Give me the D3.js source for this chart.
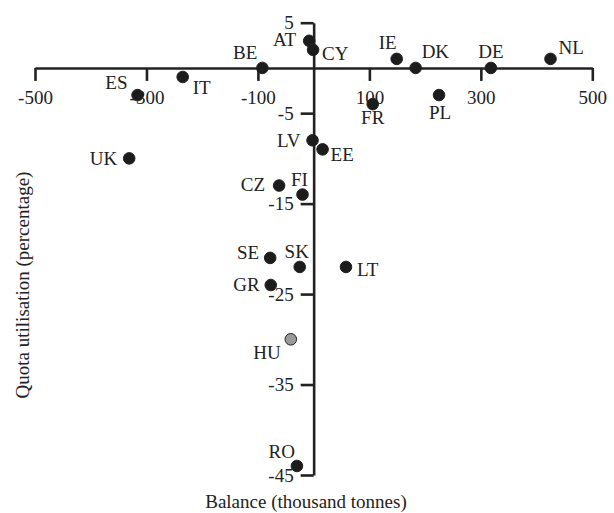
<!DOCTYPE html>
<html>
<head>
<meta charset="utf-8">
<script src="https://cdn.jsdelivr.net/npm/d3@7"></script>
<style>
  body { margin: 0; background: #fff; }
  svg text { font-family: "Liberation Serif", "Times New Roman", serif; fill: #222; }
</style>
</head>
<body>
<div id="chart"></div>
<script>
// member states, balance (thousand tonnes), quota utilisation (%)
var countries = ["AT","CY","BE","ES","IT","IE","DK","DE","NL","FR","PL","LV","EE","UK","CZ","FI","SE","SK","LT","GR","HU","RO"];
var balance   = [-8, -1, -92, -316, -235, 149, 183, 318, 425, 106, 225, -2, 16, -331, -62, -20, -78, -25, 58, -77, -41, -30];
var quotaUse  = [3, 2, 0, -3, -1, 1, 0, 0, 1, -4, -3, -8, -9, -10, -13, -14, -21, -22, -22, -24, -30, -44];
var greyed    = ["HU"];
var xTicks = [-500, -300, -100, 100, 300, 500];
var yTicks = [5, -5, -15, -25, -35, -45];

// where each label sits next to its dot: [dx, dy(centre), anchor]
var labelPlace = {
  AT:[-13,-1,"end"], CY:[9,4,"start"], BE:[-5,-15,"end"], ES:[-10,-12,"end"],
  IT:[10,11,"start"], IE:[0,-16,"end"], DK:[6,-16,"start"], DE:[0,-16,"middle"],
  NL:[8,-11,"start"], FR:[0,14,"middle"], PL:[1,18,"middle"], LV:[-12,0,"end"],
  EE:[8,5,"start"], UK:[-12,0,"end"], CZ:[-14,-1,"end"], FI:[-3,-15,"middle"],
  SE:[-11,-5,"end"], SK:[-3,-15,"middle"], LT:[11,3,"start"], GR:[-11,0,"end"],
  HU:[-10,13,"end"], RO:[-2,-14,"end"]
};

var W = 614, H = 513, fs = 19;
var svg = d3.select("#chart").append("svg").attr("width", W).attr("height", H);

var x = d3.scaleLinear().domain([-500, 500]).range([35, 592.3]);
var y = d3.scaleLinear().domain([5, -45]).range([22.7, 475]);

var points = countries.map(function(c, i){
  return {name: c, x: balance[i], y: quotaUse[i], grey: greyed.indexOf(c) >= 0};
});

var plain = function(d){ return String(d); }; // hyphen, not unicode minus

// axes crossing at the origin
var gx = svg.append("g")
  .attr("transform", "translate(0," + y(0) + ")")
  .call(d3.axisBottom(x).tickValues(xTicks).tickSize(13).tickSizeOuter(0).tickPadding(10).tickFormat(plain));
var gy = svg.append("g")
  .attr("transform", "translate(" + x(0) + ",0)")
  .call(d3.axisLeft(y).tickValues(yTicks).tickSize(13).tickSizeOuter(0).tickPadding(7).tickFormat(plain));

[gx, gy].forEach(function(g){
  g.select(".domain").attr("stroke", "#222").attr("stroke-width", 2.6);
  g.selectAll(".tick line").attr("stroke", "#222").attr("stroke-width", 2.6);
  g.selectAll(".tick text").attr("font-size", fs).attr("fill", "#222");
});
gx.selectAll(".tick text").attr("dy", "0.7em");

// dots
svg.selectAll("circle.pt").data(points).enter().append("circle")
  .attr("class", "pt")
  .attr("cx", function(d){ return x(d.x); })
  .attr("cy", function(d){ return y(d.y); })
  .attr("r", 5.8)
  .attr("fill", function(d){ return d.grey ? "#9a9a9a" : "#1c1c1c"; })
  .attr("stroke", "#222")
  .attr("stroke-width", 1);

// country labels
svg.selectAll("text.lbl").data(points).enter().append("text")
  .attr("class", "lbl")
  .attr("x", function(d){ return x(d.x) + labelPlace[d.name][0]; })
  .attr("y", function(d){ return y(d.y) + labelPlace[d.name][1] + fs * 0.33; })
  .attr("text-anchor", function(d){ return labelPlace[d.name][2]; })
  .attr("font-size", fs)
  .text(function(d){ return d.name; });

// axis titles
svg.append("text")
  .attr("x", 306).attr("y", 508)
  .attr("text-anchor", "middle")
  .attr("font-size", fs)
  .text("Balance (thousand tonnes)");

svg.append("text")
  .attr("transform", "translate(29,285) rotate(-90)")
  .attr("text-anchor", "middle")
  .attr("font-size", fs)
  .text("Quota utilisation (percentage)");
</script>
</body>
</html>
